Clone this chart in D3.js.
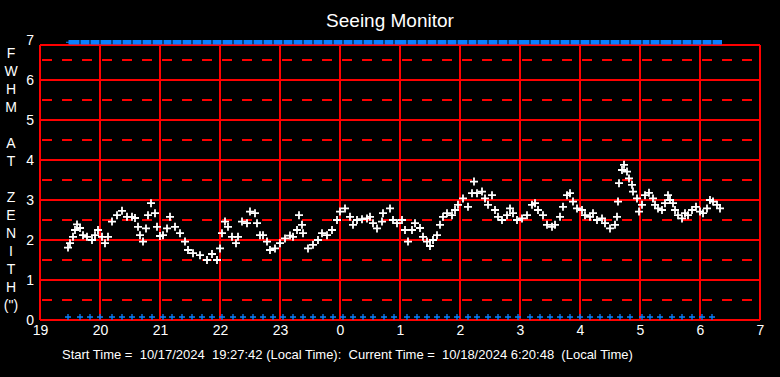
<!DOCTYPE html>
<html>
<head>
<meta charset="utf-8">
<script src="https://cdn.jsdelivr.net/npm/d3@7"></script>
<style>
  body { margin: 0; background: #000; }
  svg { display: block; font-family: 'Liberation Sans', Arial, sans-serif; }
</style>
</head>
<body>
<script>
// minutes after 19:00 local time, and FWHM (arcsec)
var seeingMinutes = [28, 30, 33, 35, 37, 40, 43, 47, 52, 55, 58, 62, 65, 68, 72, 77, 82, 87, 92, 95,
  98, 100, 103, 106, 108, 111, 115, 117, 120, 123, 127, 130, 135, 140, 145, 148, 153, 160, 167, 172,
  177, 180, 182, 185, 188, 192, 196, 198, 202, 207, 210, 215, 217, 220, 223, 227, 230, 235, 240, 245,
  250, 253, 257, 259, 262, 263, 268, 273, 278, 282, 287, 292, 297, 300, 305, 310, 313, 317, 322, 327,
  330, 333, 337, 342, 343, 350, 353, 357, 362, 365, 368, 372, 375, 380, 383, 387, 390, 393, 397, 400,
  403, 407, 412, 415, 418, 423, 428, 432, 434, 437, 442, 445, 448, 452, 455, 458, 462, 467, 470, 473,
  477, 482, 487, 492, 495, 498, 503, 507, 512, 515, 520, 523, 527, 530, 533, 537, 542, 545, 550, 553,
  557, 562, 565, 570, 575, 577, 578, 579, 582, 584, 587, 589, 592, 593, 597, 599, 602, 605, 609, 613,
  615, 618, 622, 625, 628, 630, 633, 635, 638, 642, 645, 648, 652, 656, 660, 663, 667, 670, 673, 677, 680]
var seeingFwhm = [1.81, 1.92, 2.08, 2.25, 2.39, 2.30, 2.12, 2.08, 2.00, 2.12, 2.25, 2.08, 1.92, 2.08, 2.46, 2.62, 2.73, 2.58, 2.58, 2.55,
  2.33, 2.12, 1.96, 2.29, 2.62, 2.92, 2.67, 2.33, 2.10, 2.12, 2.29, 2.58, 2.33, 2.17, 1.96, 1.75, 1.67, 1.62, 1.50, 1.65,
  1.50, 1.79, 2.17, 2.46, 2.33, 2.08, 1.92, 2.08, 2.46, 2.42, 2.71, 2.67, 2.42, 2.12, 2.12, 1.96, 1.75, 1.79, 1.92, 2.04,
  2.11, 2.08, 2.25, 2.62, 2.38, 2.17, 1.79, 1.88, 2.00, 2.17, 2.12, 2.25, 2.50, 2.71, 2.79, 2.58, 2.38, 2.50, 2.52, 2.54,
  2.58, 2.42, 2.29, 2.46, 2.67, 2.79, 2.50, 2.42, 2.50, 2.25, 1.96, 2.25, 2.42, 2.30, 2.08, 1.96, 1.85, 2.00, 2.12, 2.38,
  2.58, 2.67, 2.62, 2.75, 2.88, 3.04, 2.83, 3.17, 3.46, 3.17, 3.21, 3.04, 2.88, 3.12, 2.75, 2.58, 2.50, 2.62, 2.79, 2.67,
  2.50, 2.54, 2.62, 2.88, 2.92, 2.75, 2.62, 2.38, 2.33, 2.38, 2.58, 2.83, 3.12, 3.17, 2.96, 2.79, 2.75, 2.62, 2.58, 2.67,
  2.50, 2.54, 2.42, 2.29, 2.38, 2.58, 2.96, 3.42, 3.75, 3.88, 3.71, 3.54, 3.38, 3.21, 3.04, 2.71, 2.88, 3.12, 3.18, 3.04,
  2.88, 2.79, 2.75, 2.92, 3.12, 3.00, 2.92, 2.75, 2.62, 2.54, 2.67, 2.62, 2.75, 2.83, 2.71, 2.67, 2.79, 3.00, 2.96, 2.88, 2.79]

// status flags (blue) every ~10 minutes
var flagMinutes = [28, 40, 50, 60, 72, 82, 92, 102, 112, 123, 132, 142, 152, 162, 172, 182, 193, 203, 213, 223,
  233, 243, 253, 263, 273, 283, 293, 303, 313, 323, 333, 344, 354, 367, 377, 387, 397, 407, 417, 428,
  437, 448, 458, 468, 478, 490, 500, 510, 520, 530, 540, 550, 560, 570, 580, 590, 602, 610, 620, 632,
  642, 652, 662, 672]

var hourTicks = [0, 60, 120, 180, 240, 300, 360, 420, 480, 540, 600, 660, 720]
var hourLabels = ['19', '20', '21', '22', '23', '0', '1', '2', '3', '4', '5', '6', '7']
var yTicks = [0, 1, 2, 3, 4, 5, 6, 7]
var yHalfTicks = [0.5, 1.5, 2.5, 3.5, 4.5, 5.5, 6.5]
var yTitle = ['F', 'W', 'H', 'M', '', 'A', 'T', '', 'Z', 'E', 'N', 'I', 'T', 'H', '(")']

var svgWidth = 780
var svgHeight = 377
var margin = { top: 40, right: 20, bottom: 57, left: 40 }
var frameTop = 45
var red = '#ff0000'
var blue = '#0a80ff'

var svg = d3.select('body').append('svg')
  .attr('width', svgWidth)
  .attr('height', svgHeight)

svg.append('rect').attr('width', svgWidth).attr('height', svgHeight).attr('fill', '#000')

var x = d3.scaleLinear().domain([0, 720]).range([margin.left, svgWidth - margin.right])
var y = d3.scaleLinear().domain([0, 7]).range([svgHeight - margin.bottom, margin.top])

var grid = svg.append('g')
  .attr('stroke', red)
  .attr('stroke-width', 2)
  .attr('shape-rendering', 'crispEdges')

// dashed half-unit lines
grid.append('g').selectAll('line')
  .data(yHalfTicks)
  .enter().append('line')
  .attr('x1', x(0) + 2).attr('x2', x(720))
  .attr('y1', d => y(d)).attr('y2', d => y(d))
  .attr('stroke-dasharray', '10,10')

// solid horizontal lines (incl. frame bottom)
grid.append('g').selectAll('line')
  .data(yTicks.slice(0, 7))
  .enter().append('line')
  .attr('x1', x(0)).attr('x2', x(720))
  .attr('y1', d => y(d)).attr('y2', d => y(d))

// vertical hour lines
grid.append('g').selectAll('line')
  .data(hourTicks)
  .enter().append('line')
  .attr('x1', d => x(d)).attr('x2', d => x(d))
  .attr('y1', frameTop).attr('y2', y(0))

// frame top
grid.append('line').attr('x1', x(0)).attr('x2', x(720)).attr('y1', frameTop).attr('y2', frameTop)

// blue band at top
svg.append('g').selectAll('rect')
  .data(flagMinutes)
  .enter().append('rect')
  .attr('x', d => x(d) + 0.5)
  .attr('width', (d, i) => i < flagMinutes.length - 1 ? x(flagMinutes[i + 1]) - x(d) - 1 : 9.5)
  .attr('y', y(7))
  .attr('height', 4.5)
  .attr('fill', blue)
svg.append('line')
  .attr('x1', x(flagMinutes[0]) - 2).attr('x2', x(flagMinutes[0]) + 1)
  .attr('y1', y(7) + 2.25).attr('y2', y(7) + 2.25)
  .attr('stroke', blue).attr('stroke-width', 1)

// blue plus markers at zero
svg.append('g').selectAll('path')
  .data(flagMinutes)
  .enter().append('path')
  .attr('d', 'M-3,0H3M0,-3V3')
  .attr('transform', d => `translate(${x(d)}, ${y(0) - 3})`)
  .attr('stroke', blue)
  .attr('stroke-width', 1.3)
  .attr('fill', 'none')

// seeing data
svg.append('g').selectAll('path')
  .data(seeingMinutes)
  .enter().append('path')
  .attr('d', 'M-4,0H4M0,-4V4')
  .attr('transform', (d, i) => `translate(${x(d)}, ${y(seeingFwhm[i])})`)
  .attr('stroke', '#fff')
  .attr('stroke-width', 1.8)
  .attr('fill', 'none')

// axes
var bottomAxis = d3.axisBottom(x)
  .tickValues(hourTicks)
  .tickFormat((d, i) => hourLabels[i])
  .tickSize(0)
  .tickPadding(5)
svg.append('g')
  .attr('transform', `translate(0, ${y(0)})`)
  .call(bottomAxis)

var leftAxis = d3.axisLeft(y)
  .tickValues(yTicks)
  .tickFormat(d3.format('d'))
  .tickSize(0)
  .tickPadding(6)
svg.append('g')
  .attr('transform', `translate(${x(0)}, 0)`)
  .call(leftAxis)

svg.selectAll('.domain').remove()
svg.selectAll('.tick text')
  .attr('fill', '#fff')
  .attr('font-size', '14px')
  .attr('font-family', "'Liberation Sans', Arial, sans-serif")

// title
svg.append('text')
  .attr('x', svgWidth / 2)
  .attr('y', 27)
  .attr('text-anchor', 'middle')
  .attr('fill', '#fff')
  .attr('font-size', '19px')
  .text('Seeing Monitor')

// vertical letters
svg.append('g').selectAll('text')
  .data(yTitle)
  .enter().append('text')
  .attr('x', 11)
  .attr('y', (d, i) => 58 + i * 18)
  .attr('text-anchor', 'middle')
  .attr('fill', '#fff')
  .attr('font-size', '14px')
  .text(d => d)

// footer
svg.append('text')
  .attr('x', 62)
  .attr('y', 359)
  .attr('fill', '#fff')
  .attr('font-size', '13px')
  .style('white-space', 'pre')
  .text('Start Time =  10/17/2024  19:27:42 (Local Time):  Current Time =  10/18/2024 6:20:48  (Local Time)')
</script>
</body>
</html>
